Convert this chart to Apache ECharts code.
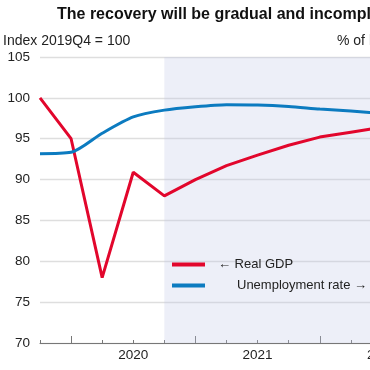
<!DOCTYPE html>
<html>
<head>
<meta charset="utf-8">
<script src="https://cdn.jsdelivr.net/npm/echarts@6/dist/echarts.min.js"></script>
<style>
html,body{margin:0;padding:0;overflow:hidden;background:#fff;}
#c{width:460px;height:370px;}
</style>
</head>
<body>
<div id="c"></div>
<script>
const quarters = ['2019Q4','2020Q1','2020Q2','2020Q3','2020Q4','2021Q1','2021Q2','2021Q3','2021Q4','2022Q1','2022Q2','2022Q3','2022Q4'];
const realGDP = [100, 95.0, 78.0, 90.9, 88.0, 90.0, 91.7, 93.0, 94.2, 95.2, 95.8, 96.4, 96.9];
const unemployment = [13.9, 14.0, 15.4, 16.6, 17.1, 17.35, 17.5, 17.48, 17.37, 17.18, 17.03, 16.85, 16.7];
const leftTicks = {min: 70, max: 105, interval: 5};
const rightTicks = {min: 0, max: 21, interval: 3};
const projectionStart = '2020Q4';

const FONT = '"Liberation Sans", Arial, sans-serif';
const RED = '#e2062c';
const BLUE = '#0c7bc0';

const chart = echarts.init(document.getElementById('c'), null, {renderer: 'canvas'});
chart.setOption({
  animation: false,
  backgroundColor: '#fff',
  textStyle: {fontFamily: FONT},
  title: [
    {text: 'The recovery will be gradual and incomplete', left: 57, top: 7, padding: 0,
     textStyle: {fontFamily: FONT, fontSize: 16, fontWeight: 'bold', color: '#111'}},
    {text: 'Index 2019Q4 = 100', left: 3, top: 34, padding: 0,
     textStyle: {fontFamily: FONT, fontSize: 14, fontWeight: 'normal', color: '#222'}},
    {text: '% of labour force', left: 337, top: 34, padding: 0,
     textStyle: {fontFamily: FONT, fontSize: 14, fontWeight: 'normal', color: '#222'}}
  ],
  legend: [
    {data: ['Real GDP'], left: 172, top: 258, orient: 'vertical', padding: 0,
     icon: 'rect', itemWidth: 33, itemHeight: 4,
     formatter: n => '{a|← ' + n + '}',
     textStyle: {fontFamily: FONT, fontSize: 13, color: '#222',
       rich: {a: {fontFamily: FONT, fontSize: 13, color: '#222', padding: [0,0,0,8], lineHeight: 16}}}},
    {data: ['Unemployment rate'], left: 172, top: 279, orient: 'vertical', padding: 0,
     icon: 'rect', itemWidth: 33, itemHeight: 4,
     formatter: n => '{a|' + n + ' →}',
     textStyle: {fontFamily: FONT, fontSize: 13, color: '#222',
       rich: {a: {fontFamily: FONT, fontSize: 13, color: '#222', padding: [0,0,0,27], lineHeight: 16}}}}
  ],
  grid: {left: 40, right: 47, top: 57, bottom: 27, containLabel: false},
  xAxis: [
    {type: 'category', data: quarters, boundaryGap: false, position: 'bottom',
     axisLine: {show: true, lineStyle: {color: '#777', width: 1}},
     axisTick: {show: true, interval: 0, inside: true, length: 3, lineStyle: {color: '#777'}},
     axisLabel: {show: false},
     splitLine: {show: false}},
    {type: 'category', data: quarters, boundaryGap: false, position: 'bottom', gridIndex: 0,
     axisLine: {show: false},
     axisTick: {show: true, inside: true, length: 7, lineStyle: {color: '#777'},
       interval: (i, v) => v.endsWith('Q1')},
     axisLabel: {show: true, margin: 5, fontFamily: FONT, fontSize: 13.5, color: '#222',
       interval: (i, v) => v.endsWith('Q3'),
       formatter: v => v.slice(0, 4)},
     splitLine: {show: false}}
  ],
  yAxis: [
    {type: 'value', min: leftTicks.min, max: leftTicks.max, interval: leftTicks.interval,
     axisLine: {show: false}, axisTick: {show: false},
     axisLabel: {margin: 10, fontFamily: FONT, fontSize: 13.5, color: '#222'},
     splitLine: {show: true, lineStyle: {color: '#dedede', width: 1.3}}},
    {type: 'value', min: rightTicks.min, max: rightTicks.max, interval: rightTicks.interval,
     position: 'right',
     axisLine: {show: false}, axisTick: {show: false},
     axisLabel: {margin: 8, fontFamily: FONT, fontSize: 13.5, color: '#222'},
     splitLine: {show: false}}
  ],
  series: [
    {name: 'Real GDP', type: 'line', data: realGDP, xAxisIndex: 0, yAxisIndex: 0,
     showSymbol: false, symbol: 'none', color: RED,
     lineStyle: {color: RED, width: 3}, z: 3,
     markArea: {silent: true, itemStyle: {color: 'rgba(190,198,230,0.28)'},
       data: [[{xAxis: projectionStart}, {xAxis: quarters[quarters.length - 1]}]]}},
    {name: 'Unemployment rate', type: 'line', data: unemployment, xAxisIndex: 0, yAxisIndex: 1,
     showSymbol: false, symbol: 'none', color: BLUE, smooth: 0.25,
     lineStyle: {color: BLUE, width: 3}, z: 3}
  ]
});
</script>
</body>
</html>
